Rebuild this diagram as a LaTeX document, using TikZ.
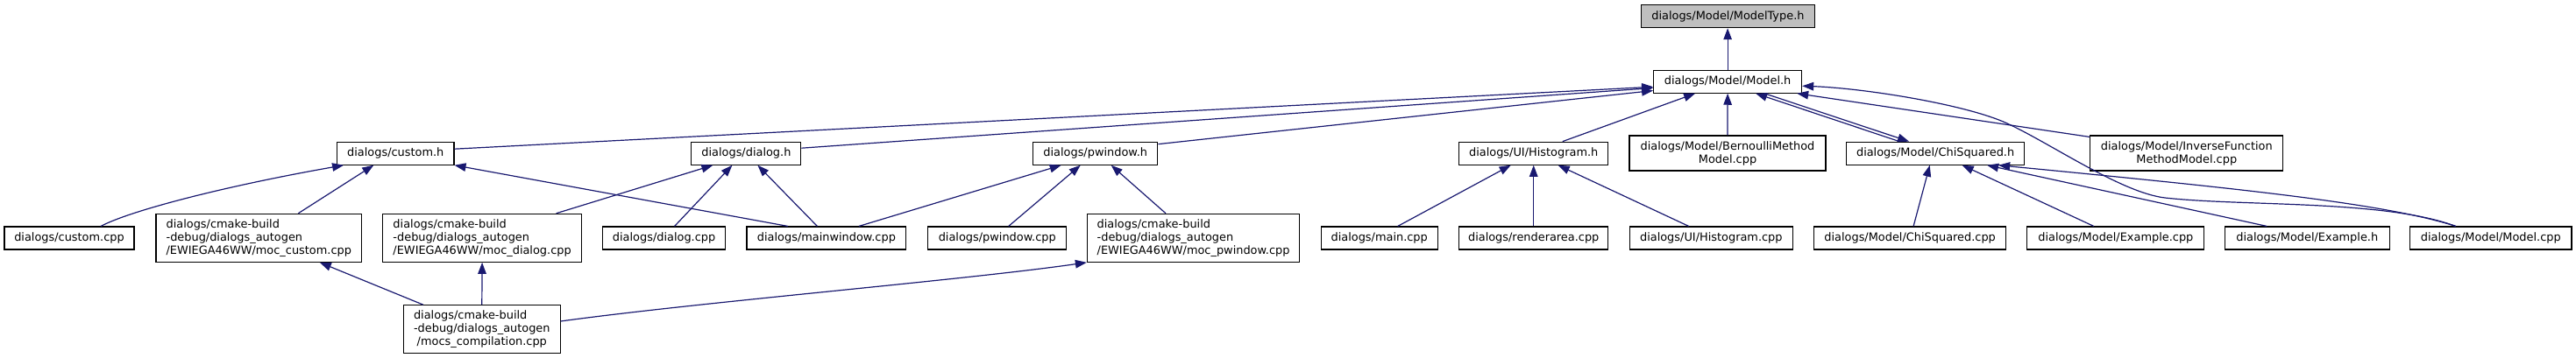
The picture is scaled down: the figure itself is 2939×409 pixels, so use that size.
\documentclass[tikz,border=0pt]{standalone}
\usepackage{fontspec}
\setmainfont{DejaVu Sans}
\usetikzlibrary{arrows.meta}
\definecolor{midnight}{HTML}{191970}
\definecolor{boxgray}{HTML}{BFBFBF}
\begin{document}
\begin{tikzpicture}[x=1pt,y=-1pt,
  box/.style={draw=black,line width=1.1pt,fill=white,inner sep=0pt,
    font=\fontsize{12.9}{15}\selectfont,align=center},
  one/.style={box,minimum height=26pt},
  two/.style={box,minimum height=40pt},
  three/.style={box,minimum height=55pt},
  dep/.style={draw=midnight,line width=1.2pt,-{Triangle[length=13pt,width=9.5pt]}}]
\useasboundingbox (0,0) rectangle (2939,409);
% row 0/1
\node[one,fill=boxgray,minimum width=198pt] (mtype) at (1971.4,18.7) {dialogs/Model/ModelType.h};
\node[one,minimum width=169pt] (modelh) at (1971.1,93.2) {dialogs/Model/Model.h};
% row 2
\node[one,minimum width=133.3pt] (customh) at (451.3,175.2) {dialogs/custom.h};
\node[one,minimum width=125pt] (dialogh) at (851.4,175.2) {dialogs/dialog.h};
\node[one,minimum width=142.2pt] (pwinh) at (1249.7,175.2) {dialogs/pwindow.h};
\node[one,minimum width=170.3pt] (histh) at (1749.7,175.2) {dialogs/UI/Histogram.h};
\node[two,minimum width=224pt] (bern) at (1971,175) {dialogs/Model/BernoulliMethod\\Model.cpp};
\node[one,minimum width=202.8pt] (chih) at (2208.1,175.2) {dialogs/Model/ChiSquared.h};
\node[two,minimum width=220pt] (inv) at (2494.8,175) {dialogs/Model/InverseFunction\\MethodModel.cpp};
% row 3
\node[one,minimum width=148pt] (custcpp) at (79,272) {dialogs/custom.cpp};
\node[three,minimum width=234.6pt,align=left] (moccust) at (295.3,271.8) {dialogs/cmake-build\\-debug/dialogs\_autogen\\/EWIEGA46WW/moc\_custom.cpp};
\node[three,minimum width=226.4pt,align=left] (mocdial) at (550.1,271.8) {dialogs/cmake-build\\-debug/dialogs\_autogen\\/EWIEGA46WW/moc\_dialog.cpp};
\node[one,minimum width=140.3pt] (dialcpp) at (757.6,272) {dialogs/dialog.cpp};
\node[one,minimum width=181.8pt] (mainwin) at (942.9,272) {dialogs/mainwindow.cpp};
\node[one,minimum width=158.1pt] (pwincpp) at (1137.7,272) {dialogs/pwindow.cpp};
\node[three,minimum width=242.4pt,align=left] (mocpwin) at (1361.6,271.8) {dialogs/cmake-build\\-debug/dialogs\_autogen\\/EWIEGA46WW/moc\_pwindow.cpp};
\node[one,minimum width=133.3pt] (maincpp) at (1573.7,272) {dialogs/main.cpp};
\node[one,minimum width=170.3pt] (render) at (1749.7,272) {dialogs/renderarea.cpp};
\node[one,minimum width=186.5pt] (histcpp) at (1952.3,272) {dialogs/UI/Histogram.cpp};
\node[one,minimum width=218.8pt] (chicpp) at (2179.1,272) {dialogs/Model/ChiSquared.cpp};
\node[one,minimum width=202.2pt] (excpp) at (2413.8,272) {dialogs/Model/Example.cpp};
\node[one,minimum width=187.5pt] (exh) at (2632.3,272) {dialogs/Model/Example.h};
\node[one,minimum width=184.3pt] (modelcpp) at (2841.8,272) {dialogs/Model/Model.cpp};
% row 4
\node[box,minimum width=178.5pt,minimum height=54.6pt] (mocs) at (549.8,376) {\begin{tabular}{@{}l@{}}dialogs/cmake-build\\-debug/dialogs\_autogen\\\multicolumn{1}{@{}c@{}}{/mocs\_compilation.cpp}\end{tabular}};
% edges
\draw[dep] (modelh.north) -- (mtype.south -| modelh.north);
\draw[dep] ([yshift=5pt]customh.east) -- ([yshift=-6pt]modelh.west);
\draw[dep] ([yshift=6pt]dialogh.east) -- ([yshift=-7.3pt]modelh.west);
\draw[dep] ([yshift=-3pt]pwinh.north east) -- ([yshift=-10.3pt]modelh.west);
\draw[dep] ([xshift=33pt]histh.north) -- ([xshift=-37pt]modelh.south);
\draw[dep] (bern.north) -- (modelh.south);
\draw[dep] ([xshift=-41pt]chih.north) -- ([xshift=32pt]modelh.south);
\draw[dep] ([xshift=42pt]modelh.south) -- ([xshift=-30pt]chih.north);
\draw[dep] ([yshift=-2pt]inv.north west) -- ([xshift=-6pt]modelh.south east);
\draw[dep] ([xshift=-40pt]modelcpp.north) .. controls (2720,228) and (2560,236) .. (2470,226)
  .. controls (2420,220) and (2340,164) .. (2290,141)
  .. controls (2245,120) and (2130,101) .. ([yshift=-5pt]modelh.east);
\draw[dep] ([xshift=36pt]custcpp.north) .. controls (150,240) and (260,212) .. ([xshift=8pt]customh.south west);
\draw[dep] ([xshift=45pt]moccust.north) -- ([xshift=-25pt]customh.south);
\draw[dep] ([xshift=-44pt]mainwin.north) -- (customh.south east);
\draw[dep] ([xshift=84.5pt]mocdial.north) -- ([xshift=-38pt]dialogh.south);
\draw[dep] ([xshift=12pt]dialcpp.north) -- ([xshift=-16pt]dialogh.south);
\draw[dep] ([xshift=-10.5pt]mainwin.north) -- ([xshift=13pt]dialogh.south);
\draw[dep] ([xshift=37pt]mainwin.north) -- ([xshift=-39pt]pwinh.south);
\draw[dep] ([xshift=13pt]pwincpp.north) -- ([xshift=-17pt]pwinh.south);
\draw[dep] ([xshift=-31.6pt]mocpwin.north) -- ([xshift=18pt]pwinh.south);
\draw[dep] ([xshift=-67pt]mocs.north) -- ([xshift=69.5pt]moccust.south);
\draw[dep] (mocs.north) -- (mocdial.south);
\draw[dep] ([yshift=9pt]mocs.east) .. controls (800,345) and (1100,320) .. (mocpwin.south west);
\draw[dep] ([xshift=21pt]maincpp.north) -- ([xshift=-26pt]histh.south);
\draw[dep] (render.north) -- (histh.south);
\draw[dep] ([xshift=-25.6pt]histcpp.north) -- ([xshift=28pt]histh.south);
\draw[dep] ([xshift=4pt]chicpp.north) -- ([xshift=-6.4pt]chih.south);
\draw[dep] ([xshift=-25pt]excpp.north) -- ([xshift=30.6pt]chih.south);
\draw[dep] ([xshift=-46pt]exh.north) -- ([xshift=59pt]chih.south);
\draw[dep] ([xshift=-40pt]modelcpp.north) .. controls (2720,232) and (2550,215) .. ([xshift=72pt]chih.south);
\end{tikzpicture}
\end{document}
